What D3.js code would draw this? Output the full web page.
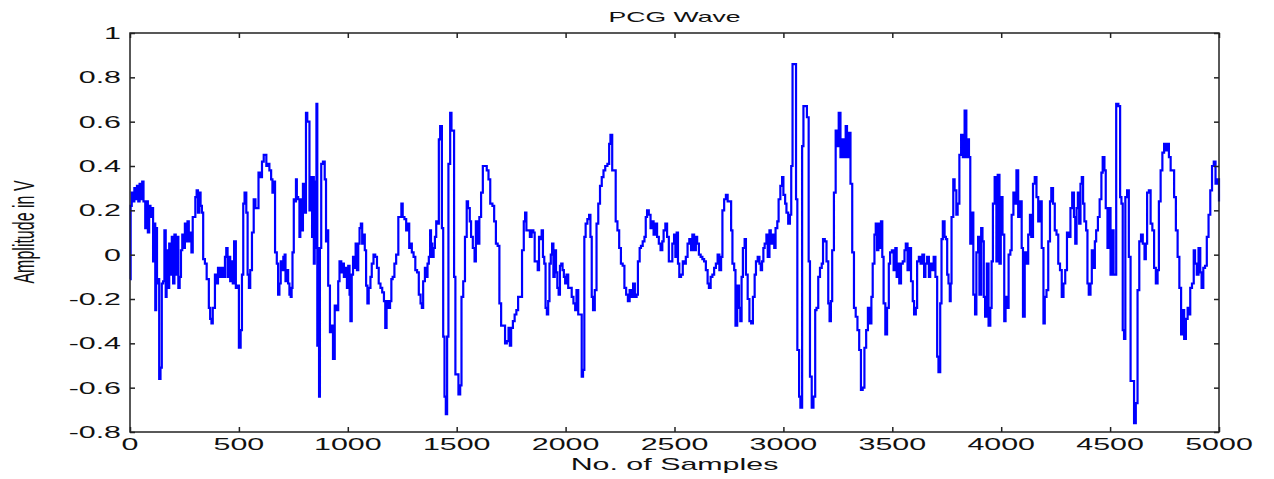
<!DOCTYPE html>
<html lang="en">
  <head>
    <meta charset="UTF-8" />
    <title>PCG Wave</title>
    <style>
      body { margin: 0; background: #fff; }
      text { font-family: "Liberation Sans", Arial, sans-serif; fill: #111; }
    </style>
  </head>
  <body>
    <svg id="container" width="1274" height="479"></svg>
  </body>
  <script src="https://cdn.jsdelivr.net/npm/d3@7"></script>
  <script>
    // [sample number, amplitude in V]
    let pcgWave = [
      [0,-0.11],[3,0.22],[8,0.28],[14,0.24],[20,0.30],[26,0.25],[32,0.31],[38,0.24],[44,0.32],[50,0.25],
      [56,0.33],[62,0.24],[70,0.12],[76,0.24],[82,0.10],[88,0.22],[94,0.17],[100,0.21],[106,-0.03],[112,0.14],
      [116,-0.25],[120,0.12],[124,-0.13],[128,-0.11],[134,-0.56],[140,-0.51],[146,-0.13],[152,-0.12],[158,0.11],[164,-0.19],
      [168,0.02],[174,-0.15],[180,0.05],[186,-0.09],[192,0.08],[198,-0.13],[204,0.09],[210,-0.09],[216,0.08],[222,-0.15],
      [228,-0.10],[234,0.02],[240,0.09],[246,0.03],[252,0.14],[258,0.06],[264,0.15],[270,0.06],[276,0.10],[282,0.01],
      [288,0.17],[294,0.17],[300,0.26],[306,0.29],[312,0.19],[318,0.28],[324,0.22],[330,0.19],[336,-0.02],[344,-0.04],
      [352,-0.11],[362,-0.24],[368,-0.29],[374,-0.31],[380,-0.24],[390,-0.09],[396,-0.13],[404,-0.06],[412,-0.10],[420,-0.06],
      [428,-0.10],[436,-0.01],[442,0.03],[448,-0.10],[454,-0.01],[460,-0.12],[466,-0.03],[472,-0.13],[478,0.06],[486,-0.15],
      [494,-0.14],[500,-0.42],[508,-0.34],[514,-0.09],[520,0.23],[526,0.28],[534,0.19],[540,-0.09],[546,-0.15],[552,-0.07],
      [560,0.10],[568,0.25],[576,0.21],[590,0.37],[600,0.35],[606,0.42],[614,0.45],[626,0.40],[634,0.41],[640,0.38],
      [648,0.34],[654,0.28],[660,0.33],[666,0.01],[674,-0.04],[680,-0.18],[686,-0.13],[692,-0.03],[698,-0.07],[704,-0.01],
      [710,0.00],[714,-0.12],[720,-0.07],[726,-0.13],[732,-0.18],[738,-0.19],[742,-0.15],[746,0.01],[752,0.25],[758,0.24],
      [762,0.34],[766,0.26],[772,0.25],[778,0.08],[782,0.25],[788,0.11],[794,0.32],[800,0.31],[804,0.19],[808,0.64],
      [814,0.60],[820,0.60],[824,0.20],[828,0.35],[832,0.32],[836,0.08],[840,0.35],[844,-0.04],[848,0.33],[852,0.03],
      [856,0.68],[860,-0.41],[864,0.03],[868,-0.64],[872,0.03],[878,0.41],[886,0.42],[894,0.34],[900,0.06],[904,0.11],
      [910,-0.14],[918,-0.35],[926,-0.32],[932,-0.47],[940,-0.23],[948,-0.25],[956,-0.12],[962,-0.03],[970,-0.08],[976,-0.04],
      [982,-0.10],[990,-0.06],[996,-0.15],[1002,-0.05],[1008,-0.18],[1012,-0.30],[1018,-0.09],[1024,-0.01],[1030,-0.06],[1036,0.05],
      [1042,-0.07],[1048,0.05],[1054,0.12],[1060,0.14],[1066,0.05],[1072,0.09],[1078,0.02],[1084,-0.14],[1090,-0.22],[1096,-0.15],
      [1104,-0.10],[1110,-0.04],[1118,0.00],[1126,-0.01],[1134,-0.06],[1142,-0.13],[1150,-0.15],[1158,-0.17],[1166,-0.21],[1172,-0.33],
      [1178,-0.21],[1186,-0.24],[1194,-0.21],[1200,-0.11],[1206,-0.10],[1214,-0.04],[1222,0.00],[1232,0.17],[1240,0.17],[1246,0.23],
      [1252,0.17],[1260,0.16],[1268,0.11],[1274,0.14],[1282,0.03],[1288,0.05],[1294,0.01],[1302,-0.01],[1310,-0.07],[1318,-0.08],
      [1326,-0.18],[1334,-0.22],[1340,-0.24],[1346,-0.12],[1354,-0.06],[1360,-0.10],[1366,-0.04],[1372,-0.01],[1378,0.11],[1382,0.05],
      [1388,-0.01],[1394,0.03],[1400,0.08],[1406,0.15],[1412,0.14],[1418,0.52],[1424,0.58],[1432,0.12],[1438,-0.37],[1444,-0.64],
      [1450,-0.72],[1456,-0.37],[1462,0.41],[1470,0.64],[1476,0.56],[1482,0.56],[1488,-0.10],[1494,-0.54],[1502,-0.54],[1508,-0.63],
      [1516,-0.59],[1522,-0.19],[1530,-0.12],[1538,0.08],[1546,0.24],[1552,0.21],[1560,0.15],[1566,0.08],[1574,0.03],[1582,-0.03],
      [1588,0.15],[1594,0.05],[1604,0.17],[1612,0.28],[1620,0.40],[1630,0.40],[1638,0.38],[1646,0.34],[1654,0.23],[1664,0.22],
      [1672,0.15],[1680,0.05],[1688,0.04],[1696,-0.22],[1704,-0.32],[1714,-0.32],[1722,-0.40],[1730,-0.39],[1738,-0.33],[1744,-0.41],
      [1750,-0.33],[1758,-0.30],[1766,-0.27],[1774,-0.25],[1782,-0.19],[1792,-0.19],[1800,0.02],[1808,0.15],[1814,0.19],[1820,0.11],
      [1828,0.11],[1836,0.08],[1844,0.11],[1852,0.10],[1858,-0.03],[1866,-0.03],[1872,-0.07],[1878,0.08],[1884,0.07],[1890,0.11],
      [1896,-0.01],[1902,-0.04],[1908,-0.24],[1914,-0.27],[1920,-0.21],[1926,-0.04],[1932,0.00],[1938,0.05],[1944,-0.10],[1950,0.02],
      [1956,-0.08],[1962,-0.15],[1968,-0.18],[1974,-0.05],[1980,-0.04],[1986,-0.07],[1992,-0.10],[1998,-0.13],[2004,-0.09],[2012,-0.15],
      [2020,-0.15],[2028,-0.19],[2036,-0.22],[2044,-0.25],[2050,-0.16],[2058,-0.27],[2068,-0.27],[2074,-0.55],[2080,-0.52],[2086,0.08],
      [2092,0.14],[2100,0.16],[2108,0.18],[2114,0.08],[2120,-0.19],[2126,-0.25],[2134,-0.16],[2142,0.14],[2150,0.23],[2158,0.31],
      [2166,0.35],[2174,0.38],[2182,0.40],[2192,0.41],[2200,0.50],[2206,0.54],[2214,0.38],[2222,0.38],[2230,0.15],[2238,0.11],
      [2246,0.03],[2254,-0.04],[2262,-0.05],[2270,-0.15],[2278,-0.18],[2286,-0.21],[2294,-0.16],[2302,-0.19],[2310,-0.13],[2318,-0.19],
      [2326,-0.18],[2332,-0.03],[2340,0.03],[2346,0.04],[2354,0.06],[2362,0.08],[2368,0.17],[2374,0.20],[2382,0.18],[2390,0.12],
      [2396,0.15],[2404,0.09],[2412,0.14],[2420,0.08],[2428,0.05],[2436,0.02],[2444,0.06],[2450,0.11],[2458,0.14],[2466,0.08],
      [2474,-0.03],[2482,-0.03],[2490,0.05],[2498,0.09],[2504,-0.01],[2510,0.10],[2516,-0.04],[2522,-0.10],[2530,-0.09],[2538,-0.03],
      [2546,-0.04],[2552,-0.01],[2560,0.05],[2568,0.07],[2576,0.02],[2582,0.09],[2590,0.02],[2598,0.08],[2604,0.05],[2612,0.00],
      [2620,-0.01],[2628,-0.02],[2636,-0.03],[2644,-0.07],[2652,-0.13],[2658,-0.15],[2666,-0.10],[2674,-0.09],[2682,-0.06],[2690,-0.04],
      [2698,0.00],[2706,-0.07],[2714,-0.01],[2720,0.20],[2728,0.25],[2736,0.27],[2744,0.24],[2752,0.24],[2760,0.11],[2766,-0.04],
      [2774,-0.07],[2780,-0.32],[2788,-0.14],[2796,-0.24],[2802,-0.30],[2808,-0.10],[2814,0.03],[2822,0.07],[2828,-0.09],[2836,-0.20],
      [2844,-0.30],[2852,-0.31],[2860,-0.19],[2868,-0.09],[2874,-0.03],[2882,-0.01],[2890,-0.04],[2896,-0.07],[2902,-0.03],[2908,0.03],
      [2914,0.05],[2922,0.09],[2928,-0.01],[2936,0.11],[2942,0.05],[2950,0.09],[2958,0.03],[2964,0.12],[2972,0.15],[2978,0.25],
      [2986,0.31],[2994,0.35],[3000,0.27],[3008,0.23],[3014,0.19],[3022,0.14],[3030,0.18],[3036,0.40],[3042,0.86],[3050,0.86],
      [3058,0.25],[3064,-0.43],[3072,-0.64],[3078,-0.69],[3086,0.49],[3092,0.67],[3100,0.67],[3108,0.62],[3116,-0.03],[3122,-0.55],
      [3130,-0.69],[3138,-0.64],[3146,-0.25],[3152,-0.24],[3160,-0.10],[3168,-0.06],[3176,-0.04],[3182,0.07],[3190,0.06],[3198,-0.03],
      [3206,-0.22],[3212,-0.30],[3218,-0.21],[3224,0.02],[3232,0.28],[3240,0.56],[3246,0.49],[3254,0.64],[3262,0.44],[3270,0.52],
      [3278,0.44],[3286,0.58],[3292,0.44],[3300,0.55],[3308,0.32],[3316,0.01],[3324,-0.24],[3332,-0.28],[3340,-0.34],[3348,-0.43],
      [3356,-0.61],[3364,-0.60],[3372,-0.42],[3380,-0.34],[3388,-0.24],[3396,-0.31],[3404,-0.19],[3410,-0.04],[3418,0.09],[3424,0.14],
      [3430,0.02],[3436,0.14],[3442,0.03],[3448,0.15],[3454,-0.01],[3460,-0.22],[3468,-0.36],[3476,-0.24],[3484,-0.04],[3490,0.01],
      [3498,0.02],[3506,-0.07],[3514,0.03],[3520,-0.10],[3526,-0.04],[3532,-0.13],[3540,-0.04],[3548,-0.03],[3556,0.02],[3562,0.05],
      [3570,-0.07],[3578,0.03],[3586,-0.12],[3594,-0.21],[3600,-0.27],[3608,-0.24],[3614,-0.03],[3622,-0.01],[3630,-0.04],[3638,0.00],
      [3646,-0.10],[3652,-0.04],[3660,-0.01],[3668,-0.10],[3674,-0.04],[3682,-0.07],[3690,-0.01],[3698,-0.10],[3706,-0.46],[3712,-0.53],
      [3720,-0.22],[3726,0.07],[3732,0.15],[3740,0.08],[3746,0.07],[3752,-0.09],[3758,-0.13],[3764,-0.21],[3768,-0.13],[3772,0.17],
      [3780,0.34],[3786,0.29],[3794,0.18],[3800,0.23],[3808,0.45],[3816,0.54],[3824,0.44],[3832,0.65],[3840,0.44],[3846,0.52],
      [3852,0.44],[3858,0.05],[3864,0.19],[3872,-0.18],[3880,-0.27],[3886,0.01],[3894,0.08],[3900,-0.18],[3908,0.12],[3914,0.06],
      [3920,-0.19],[3926,-0.28],[3934,-0.04],[3942,-0.32],[3950,-0.24],[3956,-0.03],[3962,0.23],[3970,0.35],[3978,-0.03],[3984,0.36],
      [3992,-0.04],[3998,0.26],[4006,0.09],[4014,-0.30],[4020,-0.19],[4028,-0.24],[4034,0.00],[4042,0.02],[4048,0.18],[4056,0.28],
      [4062,0.23],[4070,0.38],[4078,0.17],[4086,0.24],[4094,0.03],[4100,-0.28],[4108,0.01],[4116,-0.04],[4124,0.09],[4132,0.18],
      [4138,0.08],[4146,0.32],[4154,0.35],[4162,0.26],[4170,0.15],[4178,0.24],[4186,0.03],[4194,-0.31],[4200,-0.19],[4208,-0.16],
      [4216,0.06],[4224,0.24],[4230,0.30],[4238,0.23],[4246,0.11],[4254,0.09],[4262,-0.04],[4270,-0.07],[4278,-0.19],[4286,-0.13],
      [4294,-0.07],[4302,0.10],[4310,0.08],[4318,0.21],[4326,0.28],[4334,0.17],[4340,0.05],[4346,0.21],[4352,0.28],[4358,0.14],
      [4364,0.32],[4370,0.35],[4376,0.23],[4382,0.15],[4390,0.11],[4396,-0.13],[4402,-0.18],[4410,-0.13],[4416,0.02],[4424,-0.06],
      [4430,0.06],[4436,0.11],[4444,0.17],[4452,0.25],[4460,0.37],[4466,0.44],[4474,0.38],[4480,0.21],[4488,0.03],[4494,0.21],
      [4502,-0.09],[4510,0.11],[4516,-0.09],[4524,-0.09],[4528,0.68],[4538,0.67],[4546,0.26],[4552,0.23],[4558,-0.34],[4564,-0.38],
      [4570,0.26],[4578,0.29],[4586,-0.01],[4594,-0.57],[4602,-0.57],[4610,-0.76],[4618,-0.67],[4626,-0.16],[4634,0.06],[4642,0.09],
      [4650,0.05],[4658,-0.02],[4664,0.05],[4670,0.28],[4678,0.29],[4686,0.14],[4694,0.11],[4702,-0.06],[4710,-0.13],[4718,-0.07],
      [4724,0.24],[4732,0.38],[4740,0.46],[4748,0.50],[4756,0.47],[4764,0.50],[4770,0.44],[4778,0.38],[4786,0.38],[4794,0.26],
      [4802,0.11],[4810,-0.01],[4818,-0.15],[4826,-0.36],[4832,-0.25],[4840,-0.38],[4848,-0.29],[4856,-0.24],[4862,-0.27],[4868,-0.15],
      [4876,-0.13],[4884,0.02],[4890,-0.04],[4898,-0.09],[4906,0.03],[4914,-0.08],[4920,-0.15],[4928,-0.06],[4936,-0.05],[4944,0.08],
      [4952,0.18],[4960,0.29],[4968,0.40],[4976,0.42],[4984,0.32],[4990,0.34],[5000,0.24]
    ];

    let xTicks = [0, 500, 1000, 1500, 2000, 2500, 3000, 3500, 4000, 4500, 5000];
    let yTicks = [-0.8, -0.6, -0.4, -0.2, 0, 0.2, 0.4, 0.6, 0.8, 1];
    let titleText = "PCG Wave";
    let xLabel = "No. of Samples";
    let yLabel = "Amplitude in V";

    let svg = d3.select("#container");
    let plotLeft = 130, plotRight = 1219, plotTop = 33, plotBottom = 432;
    let stretch = 1.9; // reference text is stretched horizontally

    let x = d3.scaleLinear().domain([0, 5000]).range([plotLeft, plotRight]);
    let y = d3.scaleLinear().domain([-0.8, 1]).range([plotBottom, plotTop]);

    // the signal, drawn as stairs
    let line = d3.line().x(d => x(d[0])).y(d => y(d[1])).curve(d3.curveStepAfter);
    svg.append("path").datum(pcgWave)
      .attr("d", line)
      .attr("fill", "none")
      .attr("stroke", "#0000ff")
      .attr("stroke-width", 2.2)
      .attr("stroke-linejoin", "miter");

    // inward ticks on all four sides
    let fmt = d => String(Math.round(d * 10) / 10);
    let axes = [
      [d3.axisBottom(x).tickValues(xTicks), `translate(0,${plotBottom})`],
      [d3.axisTop(x).tickValues(xTicks), `translate(0,${plotTop})`],
      [d3.axisLeft(y).tickValues(yTicks), `translate(${plotLeft},0)`],
      [d3.axisRight(y).tickValues(yTicks), `translate(${plotRight},0)`]
    ];
    axes.forEach(([ax, tr]) => {
      let g = svg.append("g").attr("transform", tr)
        .call(ax.tickSizeInner(-5).tickSizeOuter(0).tickFormat(""));
      g.select(".domain").remove();
      g.selectAll(".tick line").attr("stroke", "#222").attr("stroke-width", 1.5);
    });

    // frame
    svg.append("rect")
      .attr("x", plotLeft).attr("y", plotTop)
      .attr("width", plotRight - plotLeft).attr("height", plotBottom - plotTop)
      .attr("fill", "none").attr("stroke", "#222").attr("stroke-width", 1.5);

    // tick labels
    svg.append("g").selectAll("text").data(xTicks).join("text")
      .attr("transform", d => `translate(${x(d)},${plotBottom + 18}) scale(${stretch},1)`)
      .attr("text-anchor", "middle")
      .style("font-size", "16px")
      .text(d => d);
    svg.append("g").selectAll("text").data(yTicks).join("text")
      .attr("transform", d => `translate(${plotLeft - 9},${y(d) + 6}) scale(${stretch},1)`)
      .attr("text-anchor", "end")
      .style("font-size", "16px")
      .text(fmt);

    // title and axis labels
    svg.append("text")
      .attr("transform", `translate(${(plotLeft + plotRight) / 2},22) scale(${stretch},1)`)
      .attr("text-anchor", "middle").style("font-size", "14px")
      .text(titleText);
    svg.append("text")
      .attr("transform", `translate(${(plotLeft + plotRight) / 2},470) scale(${stretch},1)`)
      .attr("text-anchor", "middle").style("font-size", "16px")
      .text(xLabel);
    svg.append("text")
      .attr("transform", `translate(34,232) scale(${stretch},1) rotate(-90)`)
      .attr("text-anchor", "middle").style("font-size", "16px")
      .text(yLabel);
  </script>
</html>
